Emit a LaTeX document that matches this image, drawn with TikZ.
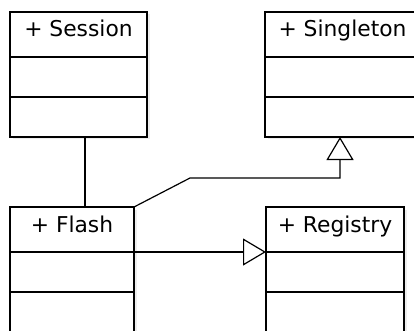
\documentclass[tikz,border=0pt]{standalone}
\usepackage{fontspec}
\setmainfont{DejaVu Sans}
\usetikzlibrary{arrows.meta}

% one UML class: title, attribute and operation compartments
% #1 name, #2 x, #3 y, #4 width, #5 height of last compartment, #6 title
\newcommand\umlclassbox[6]{%
  \fill[shade] ([xshift=2.5pt,yshift=-2.5pt]#2,#3) rectangle ++(#4,{45+40+#5});
  \node[part=#4, minimum height=45pt] (#1T) at (#2,#3) {};
  \node[part=#4, minimum height=40pt] (#1M) at (#1T.south west) {};
  \node[part=#4, minimum height=#5pt] (#1B) at (#1M.south west) {};
  \node[title] (#1L) at ([yshift=-25pt]#1T.north) {+ #6};
}

\begin{document}
\begin{tikzpicture}[x=1pt, y=-1pt, line width=1.2pt,
  part/.style={draw, fill=white, anchor=north west, minimum width=#1pt,
    inner sep=0pt, outer sep=0pt},
  shade/.style={black!7},
  title/.style={anchor=base, inner sep=0pt,
    font=\fontsize{21.8pt}{26pt}\selectfont},
  realize/.style={-{Triangle[open, length=23pt, width=27pt]}}]

  \path[use as bounding box, clip] (0,0) rectangle (414,331);

  \umlclassbox{sess}{10}{12}{137}{40}{Session}
  \umlclassbox{sing}{265}{12}{155}{40}{Singleton}
  \umlclassbox{flash}{10}{207}{124}{50}{Flash}
  \umlclassbox{reg}{266}{207}{138}{50}{Registry}

  % association Session -- Flash
  \draw ([xshift=6.5pt]sessB.south) -- ([xshift=6.5pt]sessB.south |- flashT.north);

  % generalisation Flash -> Singleton
  \coordinate (knee) at (190,178);
  \draw[realize] (flashT.north east) -- (knee) -| ([xshift=-2.5pt]singB.south);

  % generalisation Flash -> Registry
  \draw[realize] (flashT.south east) -- (regT.south west);
\end{tikzpicture}
\end{document}
